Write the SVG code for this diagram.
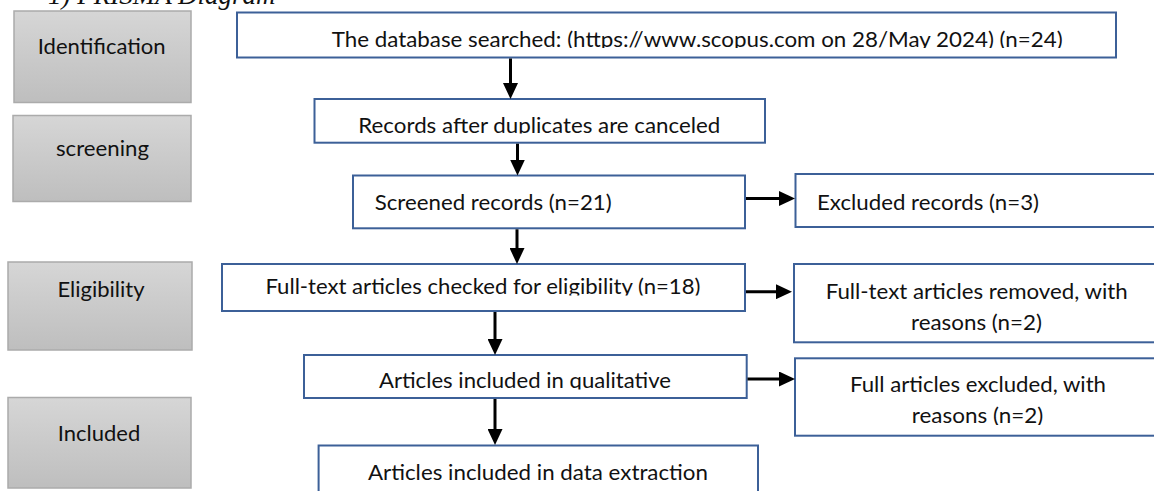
<svg xmlns="http://www.w3.org/2000/svg" width="1154" height="491" viewBox="0 0 1154 491">
<style>
  text { font-family: Lato, "Liberation Sans", sans-serif; font-size: 22px; fill: #111; }
  .title { font-family: "Liberation Serif", serif; font-style: italic; font-size: 27px; }
  .box { fill: #fff; stroke: #3C6098; stroke-width: 2; }
  .stage { fill: url(#gray); stroke: #ABABAB; stroke-width: 1.5; }
  .c { text-anchor: middle; }
  .arrow { stroke: #000; stroke-width: 3; fill: none; marker-end: url(#ah); }
</style>
<defs>
  <linearGradient id="gray" x1="0" y1="0" x2="0" y2="1">
    <stop offset="0" stop-color="#D6D6D6"/>
    <stop offset="1" stop-color="#BEBEBE"/>
  </linearGradient>
  <marker id="ah" markerUnits="userSpaceOnUse" markerWidth="16" markerHeight="15" refX="8" refY="7.5" orient="auto">
    <path d="M0,0 L16,7.5 L0,15 z" fill="#000"/>
  </marker>
  <clipPath id="c1" clipPathUnits="userSpaceOnUse"><rect x="237" y="12" width="880" height="36"/></clipPath>
  <clipPath id="c2" clipPathUnits="userSpaceOnUse"><rect x="314" y="99" width="452" height="34.5"/></clipPath>
  <clipPath id="c3" clipPathUnits="userSpaceOnUse"><rect x="222" y="264" width="523" height="31.5"/></clipPath>
  <clipPath id="c4" clipPathUnits="userSpaceOnUse"><rect x="304" y="355" width="443" height="34.5"/></clipPath>
  <clipPath id="c5" clipPathUnits="userSpaceOnUse"><rect x="795" y="400" width="360" height="25"/></clipPath>
</defs>

<text class="title" x="48" y="4">1) PRISMA Diagram</text>

<g id="stage-identification">
  <rect class="stage" x="14" y="11" width="177" height="91.5"/>
  <text class="c" x="101.7" y="54" textLength="128" lengthAdjust="spacingAndGlyphs">Identification</text>
</g>
<g id="stage-screening">
  <rect class="stage" x="13" y="115.5" width="178" height="86"/>
  <text class="c" x="102.5" y="155.5" textLength="93" lengthAdjust="spacingAndGlyphs">screening</text>
</g>
<g id="stage-eligibility">
  <rect class="stage" x="8" y="262" width="184" height="88"/>
  <text class="c" x="101" y="297">Eligibility</text>
</g>
<g id="stage-included">
  <rect class="stage" x="8" y="397.5" width="183" height="90.5"/>
  <text class="c" x="99" y="441">Included</text>
</g>

<g id="n-database">
  <rect class="box" x="237" y="12.5" width="879" height="45"/>
  <text x="331.7" y="46.7" textLength="731" lengthAdjust="spacingAndGlyphs" clip-path="url(#c1)">The database searched: (https://www.scopus.com on 28/May 2024) (n=24)</text>
</g>
<g id="n-duplicates">
  <rect class="box" x="314.5" y="99" width="450.5" height="43.7"/>
  <text x="358.3" y="132.7" textLength="362" lengthAdjust="spacingAndGlyphs" clip-path="url(#c2)">Records after duplicates are canceled</text>
</g>
<g id="n-screened">
  <rect class="box" x="353" y="175.5" width="392" height="52.8"/>
  <text x="374.7" y="210" textLength="237" lengthAdjust="spacingAndGlyphs">Screened records (n=21)</text>
</g>
<g id="n-excluded">
  <rect class="box" x="795.5" y="174" width="362" height="53"/>
  <text x="817" y="210" textLength="222" lengthAdjust="spacingAndGlyphs">Excluded records (n=3)</text>
</g>
<g id="n-fulltext">
  <rect class="box" x="222" y="264" width="523" height="47"/>
  <text x="265.4" y="294.3" textLength="435" lengthAdjust="spacingAndGlyphs" clip-path="url(#c3)">Full-text articles checked for eligibility (n=18)</text>
</g>
<g id="n-removed">
  <rect class="box" x="794" y="264" width="363" height="78.3"/>
  <text x="825.7" y="299" textLength="302" lengthAdjust="spacingAndGlyphs">Full-text articles removed, with</text>
  <text x="911" y="330" textLength="131" lengthAdjust="spacingAndGlyphs">reasons (n=2)</text>
</g>
<g id="n-qualitative">
  <rect class="box" x="304" y="355" width="442.7" height="43"/>
  <text x="379" y="388.3" textLength="292" lengthAdjust="spacingAndGlyphs" clip-path="url(#c4)">Articles included in qualitative</text>
</g>
<g id="n-fullexcluded">
  <rect class="box" x="795" y="358.3" width="362" height="77.4"/>
  <text x="850" y="392.3" textLength="256" lengthAdjust="spacingAndGlyphs">Full articles excluded, with</text>
  <text x="911.7" y="423.3" textLength="131.6" lengthAdjust="spacingAndGlyphs" clip-path="url(#c5)">reasons (n=2)</text>
</g>
<g id="n-extraction">
  <rect class="box" x="318.6" y="445.5" width="439.4" height="60"/>
  <text x="368" y="480" textLength="340" lengthAdjust="spacingAndGlyphs">Articles included in data extraction</text>
</g>

<g id="connectors">
  <line class="arrow" x1="510.5" y1="58.5" x2="510.5" y2="91"/>
  <line class="arrow" x1="517.5" y1="143.7" x2="517.5" y2="167.5"/>
  <line class="arrow" x1="517" y1="229.3" x2="517" y2="256"/>
  <line class="arrow" x1="746" y1="198.5" x2="787" y2="198.5"/>
  <line class="arrow" x1="746" y1="291.7" x2="784" y2="291.7"/>
  <line class="arrow" x1="495" y1="312" x2="495" y2="347"/>
  <line class="arrow" x1="747.5" y1="379" x2="787" y2="379"/>
  <line class="arrow" x1="495" y1="399" x2="495" y2="437"/>
</g>
</svg>
